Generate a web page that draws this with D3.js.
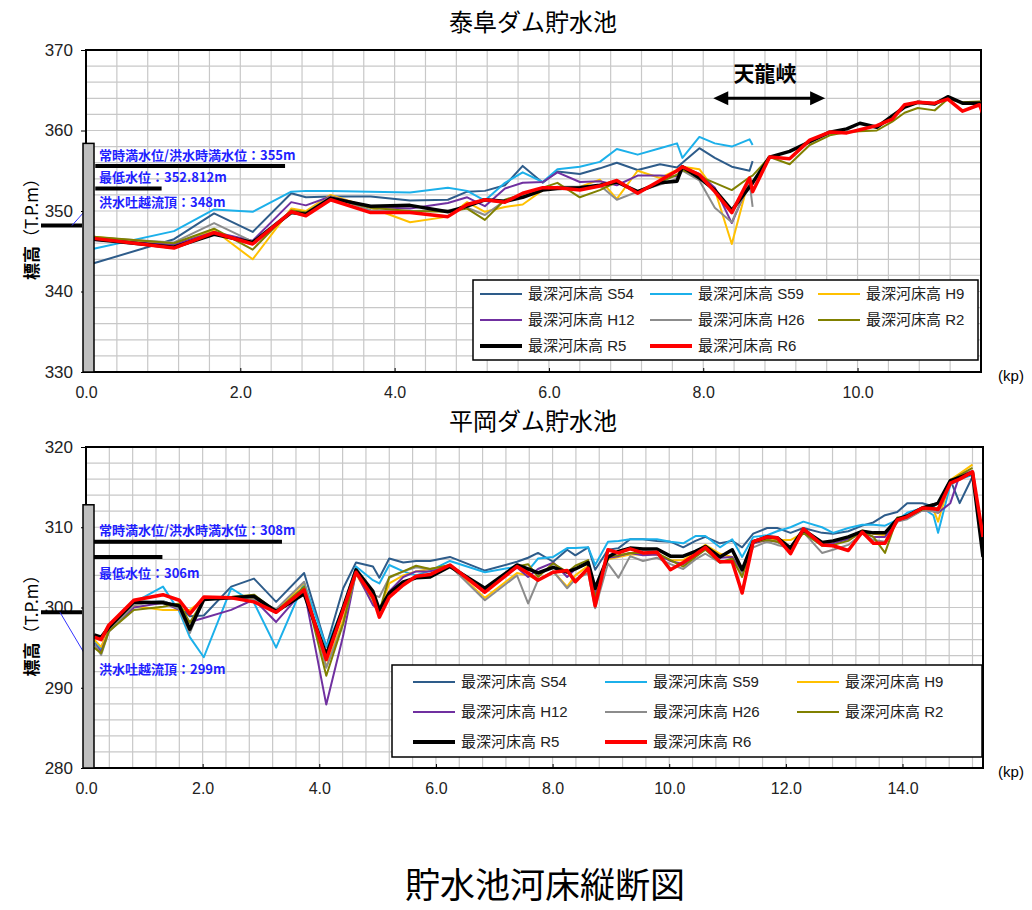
<!DOCTYPE html>
<html>
<head>
<meta charset="utf-8">
<script src="https://cdn.jsdelivr.net/npm/d3@7"></script>
<style>body{margin:0;background:#fff}</style>
</head>
<body>
<script>
// ---- series legend / styles
var seriesNames = ["最深河床高 S54","最深河床高 S59","最深河床高 H9","最深河床高 H12",
                   "最深河床高 H26","最深河床高 R2","最深河床高 R5","最深河床高 R6"];
var seriesColors = ["#2e5c8a","#1cb0ea","#ffc000","#7030a0","#8c8c8c","#808000","#000000","#ff0000"];
var seriesWidths = [2,2,2,2,2,2,3.5,3.5];

// ---- 泰阜ダム貯水池 (kp, m)
var kpTop = [0.1,1.14,1.66,2.16,2.66,2.85,3.17,3.69,4.2,4.69,4.94,5.17,5.43,5.66,5.92,6.11,6.4,6.66,6.88,7.15,
             7.44,7.66,7.73,7.95,8.15,8.37,8.6,8.64,8.86,9.12,9.38,9.64,9.86,10.03,10.25,10.45,10.61,10.78,11.0,11.17,
             11.36,11.58,11.62];
var s54Top = [343.5,346.5,349.7,347.4,352.2,351.7,351.8,351.8,351.3,351.4,352.4,352.5,353.2,355.6,353.5,354.9,354.6,355.3,356.0,355.1,
              355.8,355.4,356.0,357.8,356.6,355.5,355.0,356.2];
var s59Top = [345.3,347.5,350.2,349.9,352.4,352.5,352.5,352.4,352.3,352.9,352.5,351.3,353.5,354.8,353.6,355.2,355.5,356.1,357.7,357.0,
              357.8,358.4,356.6,359.2,358.4,358.0,358.9,358.2];
var h9Top  = [346.8,345.8,347.6,344.0,350.3,350.0,352.0,350.4,348.6,349.3,351.1,349.9,350.5,350.8,352.6,352.8,353.0,353.9,351.5,355.0,
              354.1,355.1,355.5,355.2,352.6,345.9,354.2];
var h12Top = [346.4,345.8,347.4,346.3,351.1,350.7,351.8,350.5,350.3,351.0,351.7,350.6,352.8,353.5,353.6,354.8,353.6,353.7,353.2,354.4,
              354.4,354.3,355.5,354.6,352.9,348.5,353.6];
var h26Top = [346.7,346.1,348.5,346.2,350.0,349.8,351.8,350.1,350.0,350.1,350.4,349.5,351.3,351.9,352.6,353.0,353.0,353.2,351.4,352.4,
              353.3,354.0,355.0,353.8,350.4,348.6,353.6,350.5];
var r2Top  = [346.8,346.0,347.8,345.2,350.1,349.8,351.6,350.4,350.0,349.9,350.3,348.9,351.4,352.1,352.9,353.5,351.7,352.6,353.6,352.4,
              353.6,354.5,355.1,354.3,353.5,352.6,354.2,354.4,356.7,355.8,358.2,359.4,359.8,359.9,360.0,361.1,362.2,362.8,362.5,363.9,
              363.5,363.6,363.6];
var r5Top  = [346.5,345.5,347.1,346.1,349.8,349.6,351.6,350.6,350.7,349.9,350.6,351.4,351.2,351.7,352.6,352.8,352.9,353.2,353.6,352.4,
              353.5,353.7,355.5,354.1,352.6,350.1,353.0,353.5,356.7,357.4,358.6,359.8,360.2,360.9,360.4,361.8,362.9,363.5,363.3,364.2,
              363.4,363.4,363.4];
var r6Top  = [346.6,345.4,347.3,345.9,349.9,349.4,351.4,349.8,349.8,349.3,350.8,351.4,351.1,352.2,352.9,352.9,352.6,353.1,353.8,352.2,
              353.8,355.0,355.5,354.5,352.4,349.8,354.1,352.4,356.7,356.5,358.8,359.8,359.7,360.1,360.6,361.4,363.2,363.5,363.4,363.9,
              362.4,363.2,362.2];
var xTicksTop = [0,2,4,6,8,10];
var yTicksTop = [330,340,350,360,370];
var levelLabelsTop = ["常時満水位/洪水時満水位：355m","最低水位：352.812m","洪水吐越流頂：348m"];
var levelValuesTop = [355.6,352.8,348.2];
var damTop = 358.4;

// ---- 平岡ダム貯水池 (kp, m)
var kpBot = [0.14,0.26,0.39,0.82,1.32,1.6,1.78,2.02,2.49,2.88,3.26,3.74,4.12,4.41,4.63,4.92,5.03,5.2,5.44,5.66,
             5.9,6.24,6.84,7.39,7.58,7.75,8.01,8.25,8.39,8.61,8.73,8.95,9.13,9.33,9.55,9.79,10.02,10.24,10.45,10.62,
             10.87,11.08,11.25,11.44,11.68,11.85,12.08,12.3,12.62,12.81,13.07,13.31,13.5,13.7,13.91,14.08,14.34,14.53,14.61,14.82,
             14.98,15.2,15.38];
var s54Bot = [295.5,295.0,297.3,300.5,300.8,300.1,298.9,299.0,302.6,303.6,300.7,304.3,295.1,302.4,305.6,305.1,303.7,306.1,305.6,305.8,
              305.8,306.3,304.6,305.7,306.2,306.8,305.7,307.2,306.5,307.5,304.7,307.2,307.4,308.5,308.5,308.3,308.2,307.5,308.3,308.8,
              308.0,308.3,307.5,309.2,309.9,309.9,309.3,309.9,309.3,309.2,309.5,310.2,310.6,311.5,311.9,313.0,313.0,312.6,313.0,315.9,
              313.0,316.3];
var s59Bot = [296.0,294.7,297.5,300.6,302.6,299.5,296.3,293.8,302.4,300.6,295.0,303.1,295.1,300.0,305.1,303.4,303.0,305.3,304.5,304.0,
              304.6,305.8,304.4,305.1,304.6,306.1,306.3,307.4,307.4,307.5,305.3,308.2,308.3,308.5,308.5,308.5,308.2,308.0,308.9,308.9,
              307.5,308.5,306.3,308.8,309.0,309.5,310.0,310.7,310.0,309.3,309.9,310.3,310.3,310.2,310.9,311.8,312.4,311.5,309.3,315.3,
              316.0,316.5];
var h9Bot  = [296.0,295.1,297.2,300.2,299.7,299.7,299.7,301.0,301.3,301.1,299.5,303.1,292.6,298.5,304.2,300.5,299.5,303.0,304.0,304.5,
              304.8,305.2,301.2,304.3,304.0,303.4,304.5,302.6,304.0,305.2,301.8,306.0,306.3,306.6,306.6,306.6,305.9,305.9,306.9,307.8,
              306.7,306.3,304.1,308.0,308.4,308.4,308.4,309.3,308.0,308.2,308.6,309.6,309.2,309.0,310.9,311.2,312.3,312.2,310.7,315.9,
              316.7,317.8];
var h12Bot = [295.5,294.5,297.0,300.0,300.6,299.7,298.2,298.7,299.7,301.0,298.2,302.2,287.9,296.5,304.4,300.3,299.7,302.0,303.8,304.5,
              304.5,305.2,302.2,305.0,303.8,304.8,305.6,303.8,304.8,305.5,301.8,306.2,306.4,306.8,306.5,306.6,305.8,305.4,306.4,307.3,
              306.2,306.3,304.3,308.0,308.4,308.2,307.6,309.4,307.8,308.0,308.5,309.3,308.8,308.8,310.7,311.2,312.1,312.0,311.8,313.0,
              316.5,317.0];
var h26Bot = [295.5,294.1,297.0,300.3,300.8,299.8,296.8,301.1,301.2,301.0,299.8,303.2,292.5,298.0,304.2,301.6,301.3,303.7,304.5,305.0,
              304.8,305.2,300.9,304.0,300.5,303.4,304.5,302.4,303.5,304.3,299.9,305.5,303.7,306.4,305.8,306.2,305.4,304.8,306.0,306.7,
              305.6,305.8,304.3,307.5,308.2,307.8,307.4,309.4,306.8,307.2,307.8,309.2,308.4,308.2,310.7,311.0,312.1,312.0,311.8,315.3,
              316.0,316.8];
var r2Bot  = [295.0,294.3,297.0,299.7,300.1,300.5,298.1,301.0,301.3,301.6,299.5,302.6,291.5,298.0,304.5,301.0,299.5,303.8,304.5,305.2,
              304.8,305.3,302.2,305.1,305.4,303.8,305.5,304.4,305.2,305.9,301.2,306.4,306.5,306.8,306.8,306.8,305.9,305.1,306.3,307.2,
              305.6,306.1,303.8,308.2,308.4,308.2,307.2,309.3,307.7,307.8,308.3,309.5,308.8,306.8,311.2,311.3,312.2,312.3,312.4,315.7,
              316.5,317.4];
var r5Bot  = [296.6,296.3,297.5,300.7,300.6,300.2,297.3,301.0,301.2,301.4,299.5,301.7,294.1,300.0,304.7,302.0,299.7,301.8,303.2,303.7,
              303.8,305.1,302.4,305.3,304.8,304.3,305.0,304.4,304.8,305.6,302.4,306.3,307.0,307.4,307.3,307.3,306.4,306.4,307.0,307.6,
              306.3,307.2,304.7,308.2,308.8,308.7,307.4,309.7,308.1,308.3,308.8,309.5,309.3,309.3,311.0,311.4,312.4,312.8,313.0,315.8,
              316.2,316.8,306.3];
var r6Bot  = [296.3,296.0,297.8,300.9,301.6,300.9,299.2,301.3,301.2,300.7,299.4,302.2,293.5,299.7,304.4,301.3,298.8,301.3,302.8,303.9,
              304.1,305.3,301.9,305.1,304.3,303.4,304.4,304.6,303.2,304.9,300.2,307.2,306.8,307.3,306.8,306.9,304.7,305.6,306.6,307.5,
              305.7,305.7,301.8,308.2,308.8,308.7,306.7,309.8,307.8,307.7,307.1,309.4,308.0,308.0,310.9,311.3,312.4,312.3,312.2,315.5,
              316.0,316.9,308.8];
var xTicksBot = [0,2,4,6,8,10,12,14];
var yTicksBot = [280,290,300,310,320];
var levelLabelsBot = ["常時満水位/洪水時満水位：308m","最低水位：306m","洪水吐越流頂：299m"];
var levelValuesBot = [308.2,306.3,299.4];
var damBot = 312.8;

var cjk = "'Noto Sans CJK JP',sans-serif";
var latin = "'Liberation Sans','Noto Sans CJK JP',sans-serif";

var svg = d3.select("body").append("svg")
  .attr("width",1032).attr("height",910)
  .style("font-family",latin);

function panel(o) {
  var x = d3.scaleLinear().domain([0,o.xMax]).range([o.left,o.right]);
  var y = d3.scaleLinear().domain([o.yMin,o.yMax]).range([o.bottom,o.top]);
  var g = svg.append("g");

  g.append("text").attr("x",533).attr("y",o.titleY)
    .attr("text-anchor","middle").attr("font-family",cjk)
    .attr("font-size","24px").text(o.title);

  // grid
  g.selectAll(null).data(d3.range(0.4,o.xMax-0.01,0.4)).enter().append("line")
    .attr("x1",d=>x(d)).attr("x2",d=>x(d)).attr("y1",o.top).attr("y2",o.bottom)
    .attr("stroke","#c8c8c8").attr("stroke-width",1.2);
  g.selectAll(null).data(d3.range(o.yMin+2,o.yMax,2)).enter().append("line")
    .attr("x1",o.left).attr("x2",o.right).attr("y1",d=>y(d)).attr("y2",d=>y(d))
    .attr("stroke","#c8c8c8").attr("stroke-width",1.2);

  // axes
  var ya = g.append("g").attr("transform","translate("+o.left+",0)")
    .call(d3.axisLeft(y).tickValues(o.yTicks).tickSize(5).tickPadding(8).tickFormat(d3.format("d")));
  ya.select(".domain").remove();
  ya.selectAll("text").attr("font-size","17px").attr("font-family",latin).attr("fill","#222");
  ya.selectAll("line").attr("stroke","#000");

  var xa = g.append("g").attr("transform","translate(0,"+o.bottom+")")
    .call(d3.axisBottom(x).tickValues(o.xTicks).tickSize(-4).tickPadding(15).tickFormat(d3.format(".1f")));
  xa.select(".domain").remove();
  xa.selectAll("text").attr("font-size","16px").attr("font-family",latin).attr("fill","#222");
  xa.selectAll("line").attr("stroke","#000");

  g.append("rect").attr("x",o.left).attr("y",o.top)
    .attr("width",o.right-o.left).attr("height",o.bottom-o.top)
    .attr("fill","none").attr("stroke","#000").attr("stroke-width",2);

  g.append("text").attr("x",1011).attr("y",o.bottom+9).attr("text-anchor","middle")
    .attr("font-size","15px").attr("font-family",latin).text("(kp)");

  // y label
  var yl = g.append("text")
    .attr("transform","translate(38,"+((o.top+o.bottom)/2+14)+") rotate(-90)")
    .attr("text-anchor","middle").attr("font-family",cjk).attr("font-size","17px");
  yl.append("tspan").attr("font-weight","bold").text("標高");
  yl.append("tspan").text("（T.P.m）");

  // level lines + notes
  var lv = o.levels;
  g.append("line").attr("x1",x(0.12)).attr("x2",x(o.lvl0To)).attr("y1",y(lv[0])).attr("y2",y(lv[0]))
    .attr("stroke","#000").attr("stroke-width",4);
  g.append("line").attr("x1",x(0.12)).attr("x2",x(o.lvl1To)).attr("y1",y(lv[1])).attr("y2",y(lv[1]))
    .attr("stroke","#000").attr("stroke-width",4);
  g.append("line").attr("x1",o.left-45).attr("x2",o.left-4).attr("y1",y(lv[2])).attr("y2",y(lv[2]))
    .attr("stroke","#000").attr("stroke-width",4);
  g.append("line").attr("x1",o.lead[0]).attr("y1",y(lv[2])).attr("x2",o.lead[1]).attr("y2",o.lead[2])
    .attr("stroke","#3333ff").attr("stroke-width",1);
  o.noteY.forEach(function(ny,i){
    g.append("text").attr("x",o.left+13).attr("y",ny)
      .attr("fill","#1f1fff").attr("font-weight","bold").attr("font-size","13px")
      .attr("font-family",cjk).text(o.levelLabels[i]);
  });

  // series
  var clipId = "clip"+o.id;
  svg.append("clipPath").attr("id",clipId).append("rect")
    .attr("x",o.left).attr("y",o.top).attr("width",o.right-o.left).attr("height",o.bottom-o.top);
  var line = d3.line().defined(d=>d[1]!=null).x(d=>x(d[0])).y(d=>y(d[1]));
  var lg = g.append("g").attr("clip-path","url(#"+clipId+")");
  o.series.forEach(function(vals,i){
    var pts = o.kp.map((k,j)=>[k, vals[j]==null ? null : vals[j]]);
    lg.append("path").datum(pts).attr("d",line)
      .attr("fill","none").attr("stroke",seriesColors[i]).attr("stroke-width",seriesWidths[i])
      .attr("stroke-linejoin","round");
  });

  // dam body
  g.append("rect").attr("x",x(0)-3).attr("y",y(o.dam)).attr("width",11)
    .attr("height",o.bottom-y(o.dam)).attr("fill","#bfbfbf").attr("stroke","#000").attr("stroke-width",1.5);

  // legend
  var L = o.legend;
  g.append("rect").attr("x",L.x).attr("y",L.y).attr("width",L.w).attr("height",L.h)
    .attr("fill","#fff").attr("stroke","#000").attr("stroke-width",1.5);
  seriesNames.forEach(function(nm,i){
    var cx = L.cols[i%3], cy = L.rows[Math.floor(i/3)];
    g.append("line").attr("x1",cx).attr("x2",cx+L.len).attr("y1",cy).attr("y2",cy)
      .attr("stroke",seriesColors[i]).attr("stroke-width",i>=6?4:2.2);
    g.append("text").attr("x",cx+L.len+6).attr("y",cy).attr("dy","0.35em")
      .attr("font-size","15px").attr("fill","#222").text(nm);
  });
  return {x:x,y:y,g:g};
}

var topPanel = panel({
  id:"t", title:"泰阜ダム貯水池", titleY:31,
  left:86, right:981, top:50, bottom:372, xMax:11.6, yMin:330, yMax:370,
  xTicks:xTicksTop, yTicks:yTicksTop, kp:kpTop,
  series:[s54Top,s59Top,h9Top,h12Top,h26Top,r2Top,r5Top,r6Top],
  levels:levelValuesTop, levelLabels:levelLabelsTop, lvl0To:2.58, lvl1To:0.98,
  noteY:[160,182,207], lead:[72,92,203], dam:damTop,
  legend:{x:473,y:280,w:505,h:80,cols:[480,650,818],rows:[294,320,346],len:42}
});

// 天龍峡 arrow
var tx = topPanel.x, ty = topPanel.y;
topPanel.g.append("line").attr("x1",tx(8.13)+12).attr("x2",tx(9.58)-12).attr("y1",ty(364)).attr("y2",ty(364))
  .attr("stroke","#000").attr("stroke-width",3);
[[8.13,1],[9.58,-1]].forEach(function(a){
  var px = tx(a[0]), py = ty(364);
  topPanel.g.append("path").attr("d","M"+px+","+py+"L"+(px+15*a[1])+","+(py-7)+"L"+(px+15*a[1])+","+(py+7)+"Z")
    .attr("fill","#000");
});
topPanel.g.append("text").attr("x",tx(8.8)).attr("y",ty(366.2)).attr("text-anchor","middle")
  .attr("font-family",cjk).attr("font-weight","bold").attr("font-size","21px").text("天龍峡");

panel({
  id:"b", title:"平岡ダム貯水池", titleY:430,
  left:86, right:983, top:447, bottom:768, xMax:15.38, yMin:280, yMax:320,
  xTicks:xTicksBot, yTicks:yTicksBot, kp:kpBot,
  series:[s54Bot,s59Bot,h9Bot,h12Bot,h26Bot,r2Bot,r5Bot,r6Bot],
  levels:levelValuesBot, levelLabels:levelLabelsBot, lvl0To:3.36, lvl1To:1.31,
  noteY:[535,578,674], lead:[60,93,668], dam:damBot,
  legend:{x:392,y:665,w:590,h:92,cols:[413,605,797],rows:[682,712,742],len:42}
});

svg.append("text").attr("x",545).attr("y",898).attr("text-anchor","middle")
  .attr("font-family",cjk).attr("font-size","35px").text("貯水池河床縦断図");
</script>
</body>
</html>
